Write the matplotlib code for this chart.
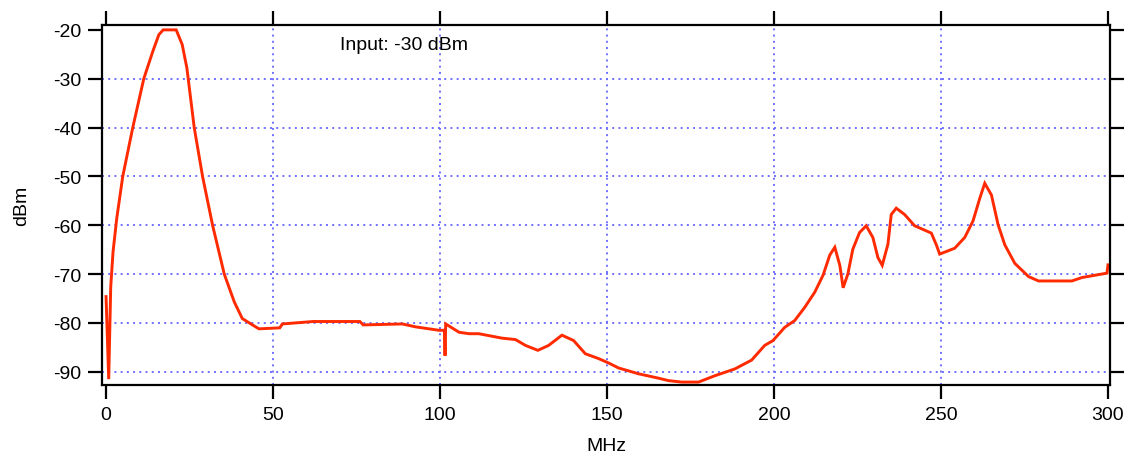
import numpy as np
import matplotlib
matplotlib.use("Agg")
import matplotlib.pyplot as plt

plt.rcParams['font.family'] = ['Liberation Sans', 'DejaVu Sans']
plt.rcParams['axes.unicode_minus'] = False

# 频谱测量数据 (MHz, dBm)
freq = [0.0, 0.8, 1.4, 2.1, 3.2, 5.0, 8.0, 11.3, 14.0, 15.8, 17.1, 21.0,
        22.8, 24.2, 24.6, 26.4, 28.9, 31.9, 35.4, 38.4, 40.8, 44.8, 45.8,
        52.0, 52.8, 62.0, 76.0, 77.0, 88.7, 92.7, 99.7, 101.3, 101.5, 101.7,
        105.7, 108.7, 111.6, 118.5, 122.6, 125.6, 129.3, 132.5, 136.5, 140.0,
        143.5, 147.5, 150.5, 153.4, 159.4, 165.4, 168.4, 172.3, 177.4, 182.3,
        188.3, 193.3, 197.2, 199.7, 203.2, 206.2, 209.2, 212.2, 214.7, 216.7,
        218.2, 219.7, 220.7, 222.1, 223.6, 225.6, 227.6, 229.6, 231.1, 232.4,
        234.1, 235.1, 236.6, 239.1, 242.1, 245.1, 247.1, 248.6, 249.6, 254.1,
        257.1, 259.6, 261.6, 263.1, 265.1, 267.1, 269.1, 272.1, 275.6, 276.2,
        279.2, 289.2, 292.2, 297.2, 299.7, 300.0]
power = [-74.6, -91.5, -72.6, -65.4, -58.6, -50.0, -40.0, -30.0, -24.4, -21.0,
         -20.0, -20.0, -23.0, -27.8, -30.0, -40.0, -50.0, -60.0, -70.0, -75.7,
         -79.1, -80.8, -81.2, -81.0, -80.2, -79.7, -79.7, -80.4, -80.2, -80.8,
         -81.5, -81.5, -86.7, -80.2, -81.9, -82.2, -82.2, -83.1, -83.4, -84.6,
         -85.6, -84.6, -82.5, -83.6, -86.3, -87.3, -88.2, -89.2, -90.4, -91.3,
         -91.8, -92.1, -92.1, -90.8, -89.4, -87.6, -84.6, -83.6, -80.9, -79.5,
         -76.8, -73.7, -70.2, -66.1, -64.5, -68.2, -72.8, -70.0, -64.9, -61.5,
         -60.1, -62.5, -66.6, -68.2, -63.9, -57.8, -56.5, -57.8, -60.1, -61.0,
         -61.6, -64.0, -65.9, -64.7, -62.5, -59.1, -54.5, -51.4, -53.8, -59.9,
         -64.0, -67.8, -70.1, -70.5, -71.4, -71.4, -70.7, -70.1, -69.8, -68.1]

xticks = np.arange(0, 301, 50)
yticks = np.arange(-90, -19, 10)

fig = plt.figure(figsize=(11.3, 4.56), dpi=100)
ax = fig.add_axes([0.0903, 0.1535, 0.892, 0.7895])

# 网格线只画内部刻度
grid_kw = dict(color='#7070ff', linestyle=(0, (1, 2.2)), linewidth=1.4, zorder=0)
for x in xticks[1:-1]:
    ax.axvline(x, **grid_kw)
for y in yticks[:-1]:
    ax.axhline(y, **grid_kw)

ax.plot(freq, power, color='#ff2a00', lw=2.1, solid_joinstyle='miter', zorder=2)

ax.set_xlim(-1.2, 300.6)
ax.set_ylim(-92.7, -19.0)
ax.set_xticks(xticks)
ax.set_yticks(yticks)

for s in ax.spines.values():
    s.set_linewidth(1.6)
ax.tick_params(which='major', direction='out', length=10, width=1.6,
               top=True, right=True, labelsize=14)
ax.tick_params(axis='x', pad=5)
ax.tick_params(axis='y', pad=5)

ax.set_xlabel("MHz", fontsize=14, labelpad=10)
ax.set_ylabel("dBm", fontsize=14, labelpad=16)
ax.text(70, -22.9, "Input: -30 dBm", fontsize=14, ha='left', va='center')

fig.savefig("out.png", dpi=100)
